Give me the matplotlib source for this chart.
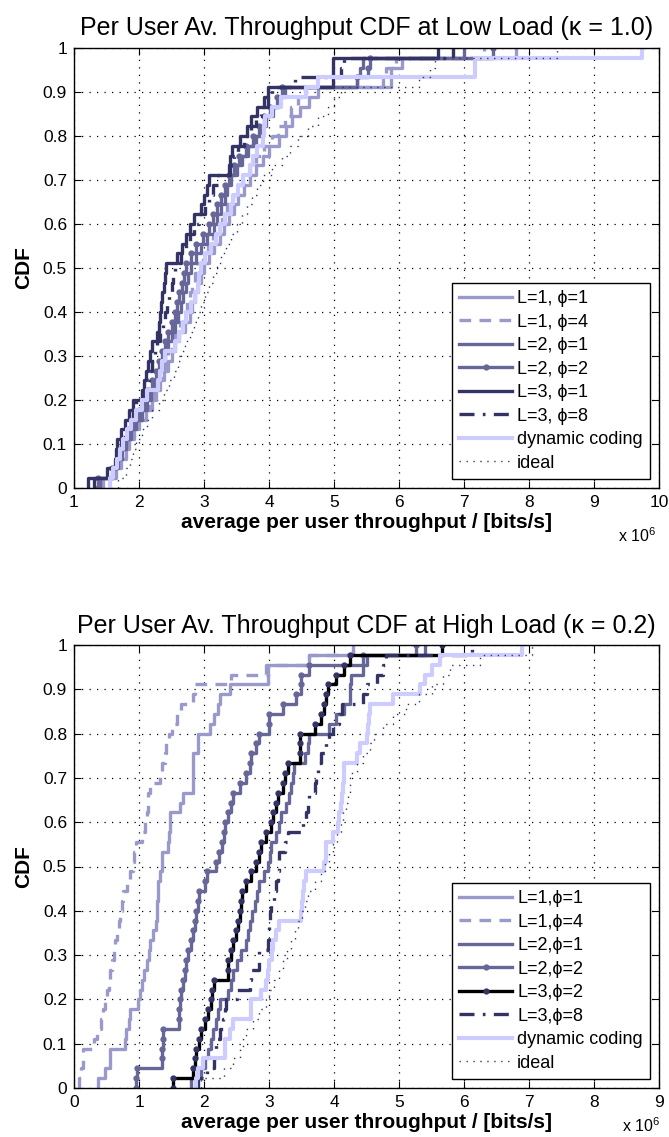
"""
Per user average throughput CDF, low load and high load
"""

import numpy as np
import matplotlib
from matplotlib import pyplot as plt
from matplotlib.ticker import FormatStrFormatter

matplotlib.use("Agg")

plt.rcParams["font.family"] = ["Liberation Sans", "DejaVu Sans"]
plt.rcParams["mathtext.fontset"] = "custom"
plt.rcParams["mathtext.rm"] = "Liberation Sans"

# per user throughput samples in 1e6 bits/s, low load (kappa = 1.0)
low_l1_p1 = [1.45, 1.65, 1.72, 1.80, 1.85, 1.92, 2.00, 2.10, 2.20, 2.26, 2.32, 2.38, 2.44, 2.50, 2.56,
             2.62, 2.70, 2.78, 2.82, 2.86, 2.90, 2.95, 3.00, 3.08, 3.16, 3.24, 3.30, 3.38, 3.46, 3.52,
             3.62, 3.70, 3.80, 3.90, 4.00, 4.15, 4.26, 4.36, 4.48, 4.62, 4.75, 5.87, 5.88, 6.05, 7.80]
low_l1_p4 = [1.42, 1.60, 1.68, 1.76, 1.82, 1.88, 1.95, 2.05, 2.15, 2.22, 2.28, 2.34, 2.40, 2.45, 2.50,
             2.56, 2.63, 2.70, 2.74, 2.78, 2.82, 2.86, 2.90, 2.98, 3.06, 3.14, 3.20, 3.28, 3.36, 3.44,
             3.52, 3.60, 3.70, 3.80, 3.92, 4.05, 4.14, 4.24, 4.34, 4.45, 4.55, 5.75, 5.80, 5.95, 7.30]
low_l2_p1 = [1.40, 1.60, 1.68, 1.74, 1.80, 1.88, 1.96, 2.04, 2.12, 2.18, 2.24, 2.30, 2.35, 2.40, 2.45,
             2.50, 2.55, 2.60, 2.64, 2.68, 2.72, 2.76, 2.80, 2.88, 2.96, 3.05, 3.15, 3.20, 3.26, 3.32,
             3.36, 3.42, 3.50, 3.58, 3.68, 3.80, 3.88, 3.96, 4.06, 4.16, 4.25, 5.35, 5.40, 5.45, 7.00]
low_l2_p2 = [1.37, 1.58, 1.66, 1.72, 1.78, 1.85, 1.92, 2.00, 2.08, 2.14, 2.20, 2.26, 2.30, 2.35, 2.40,
             2.45, 2.50, 2.55, 2.58, 2.62, 2.66, 2.69, 2.72, 2.80, 2.88, 2.98, 3.08, 3.14, 3.20, 3.26,
             3.32, 3.38, 3.46, 3.54, 3.64, 3.75, 3.84, 3.92, 4.02, 4.12, 4.20, 5.36, 5.52, 5.55, 7.45]
low_l3_p1 = [1.21, 1.50, 1.63, 1.64, 1.66, 1.73, 1.78, 1.85, 1.90, 2.05, 2.07, 2.10, 2.14, 2.17, 2.20,
             2.27, 2.31, 2.32, 2.34, 2.36, 2.38, 2.40, 2.42, 2.58, 2.66, 2.72, 2.78, 2.84, 2.95, 3.00,
             3.04, 3.08, 3.38, 3.40, 3.43, 3.55, 3.66, 3.72, 3.81, 3.92, 3.98, 4.98, 4.98, 4.98, 6.60]
low_l3_p8 = [1.30, 1.52, 1.66, 1.70, 1.72, 1.78, 1.84, 1.90, 1.96, 2.08, 2.12, 2.16, 2.20, 2.24, 2.28,
             2.33, 2.37, 2.40, 2.43, 2.46, 2.50, 2.53, 2.56, 2.64, 2.72, 2.78, 2.84, 2.92, 3.02, 3.08,
             3.14, 3.22, 3.40, 3.46, 3.52, 3.62, 3.72, 3.80, 3.88, 3.98, 4.05, 4.40, 5.10, 5.15, 6.83]
low_dyn = [1.55, 1.60, 1.66, 1.71, 1.75, 1.82, 1.88, 1.96, 2.04, 2.12, 2.29, 2.32, 2.36, 2.40, 2.55,
           2.62, 2.68, 2.72, 2.80, 2.86, 2.91, 2.93, 2.95, 3.02, 3.10, 3.18, 3.25, 3.32, 3.42, 3.44,
           3.52, 3.60, 3.70, 3.75, 3.82, 3.90, 3.92, 3.94, 4.05, 4.19, 4.57, 4.75, 7.17, 7.17, 9.74]
low_ideal = [1.68, 1.80, 1.86, 1.90, 1.95, 2.04, 2.12, 2.20, 2.30, 2.38, 2.46, 2.54, 2.60, 2.65, 2.70,
             2.78, 2.84, 2.90, 2.96, 3.02, 3.08, 3.14, 3.20, 3.26, 3.34, 3.42, 3.50, 3.58, 3.66, 3.74,
             3.82, 3.90, 4.05, 4.20, 4.32, 4.45, 4.60, 4.75, 4.90, 5.00, 5.10, 6.30, 6.48, 6.55, 8.43]

# high load (kappa = 0.2)
high_l1_p1 = [0.37, 0.48, 0.55, 0.55, 0.78, 0.80, 0.84, 0.86, 0.99, 1.01, 1.04, 1.08, 1.12, 1.15, 1.17,
              1.22, 1.26, 1.27, 1.28, 1.29, 1.29, 1.33, 1.35, 1.35, 1.45, 1.46, 1.47, 1.47, 1.63, 1.68,
              1.83, 1.83, 1.83, 1.83, 1.91, 1.91, 2.09, 2.16, 2.22, 2.24, 2.40, 2.98, 2.98, 3.62, 4.29]
high_l1_p4 = [0.07, 0.10, 0.14, 0.14, 0.30, 0.36, 0.42, 0.45, 0.48, 0.50, 0.54, 0.56, 0.58, 0.61, 0.63,
              0.66, 0.69, 0.71, 0.74, 0.76, 0.82, 0.86, 0.90, 0.93, 0.96, 1.04, 1.09, 1.12, 1.14, 1.14,
              1.17, 1.32, 1.36, 1.40, 1.42, 1.46, 1.50, 1.58, 1.65, 1.83, 1.86, 2.42, 2.95, 3.62, 4.29]
high_l2_p1 = [1.80, 1.95, 2.02, 2.06, 2.10, 2.14, 2.18, 2.22, 2.24, 2.37, 2.42, 2.45, 2.50, 2.57, 2.65,
              2.68, 2.70, 2.74, 2.78, 2.82, 2.85, 2.92, 2.98, 3.01, 3.03, 3.11, 3.15, 3.19, 3.26, 3.30,
              3.34, 3.37, 3.39, 3.55, 3.60, 3.62, 3.93, 4.03, 4.16, 4.24, 4.24, 4.26, 4.45, 4.50, 5.40]
high_l2_p2 = [0.96, 0.97, 1.35, 1.36, 1.37, 1.37, 1.61, 1.61, 1.63, 1.65, 1.68, 1.70, 1.73, 1.75, 1.80,
              1.83, 1.86, 1.88, 1.91, 1.93, 2.01, 2.04, 2.19, 2.23, 2.27, 2.30, 2.32, 2.37, 2.42, 2.45,
              2.55, 2.65, 2.70, 2.73, 2.80, 2.85, 3.00, 3.00, 3.21, 3.42, 3.49, 3.49, 3.62, 4.45, 5.26]
high_l3_p2 = [1.52, 1.83, 1.86, 1.88, 1.92, 1.96, 2.01, 2.06, 2.10, 2.13, 2.16, 2.37, 2.37, 2.41, 2.45,
              2.49, 2.52, 2.55, 2.57, 2.59, 2.65, 2.73, 2.80, 2.84, 2.88, 2.96, 3.03, 3.06, 3.10, 3.14,
              3.21, 3.24, 3.29, 3.47, 3.47, 3.47, 3.70, 3.80, 3.85, 3.88, 3.90, 4.03, 4.16, 4.24, 5.66]
high_l3_p8 = [1.90, 2.05, 2.16, 2.18, 2.19, 2.24, 2.29, 2.32, 2.34, 2.50, 2.70, 2.73, 2.85, 2.85, 2.98,
              3.00, 3.00, 3.02, 3.03, 3.08, 3.11, 3.14, 3.15, 3.16, 3.24, 3.29, 3.52, 3.57, 3.60, 3.62,
              3.70, 3.72, 3.76, 3.80, 3.88, 3.93, 3.98, 4.08, 4.13, 4.45, 4.50, 4.66, 4.76, 4.80, 6.12]
high_dyn = [1.88, 1.90, 1.98, 2.32, 2.32, 2.40, 2.45, 2.73, 2.73, 2.88, 2.96, 2.98, 3.00, 3.04, 3.06,
            3.11, 3.16, 3.49, 3.50, 3.52, 3.54, 3.57, 3.85, 3.87, 3.88, 3.98, 4.06, 4.08, 4.10, 4.13,
            4.14, 4.15, 4.16, 4.36, 4.40, 4.50, 4.52, 4.54, 4.55, 4.91, 5.32, 5.40, 5.50, 5.63, 6.89]
high_ideal = [1.95, 2.30, 2.45, 2.55, 2.60, 2.65, 2.75, 2.85, 2.95, 3.00, 3.08, 3.15, 3.22, 3.28, 3.34,
              3.40, 3.45, 3.50, 3.55, 3.60, 3.70, 3.80, 3.86, 3.92, 3.98, 4.04, 4.10, 4.14, 4.18, 4.21,
              4.24, 4.25, 4.35, 4.45, 4.55, 4.62, 4.76, 4.90, 5.10, 5.30, 5.50, 5.68, 5.78, 6.25, 7.04]

low_labels = ["L=1, ϕ=1", "L=1, ϕ=4", "L=2, ϕ=1", "L=2, ϕ=2", "L=3, ϕ=1", "L=3, ϕ=8",
              "dynamic coding", "ideal"]
high_labels = ["L=1,ϕ=1", "L=1,ϕ=4", "L=2,ϕ=1", "L=2,ϕ=2", "L=3,ϕ=2", "L=3,ϕ=8",
               "dynamic coding", "ideal"]

C1 = "#9999cc"
C2 = "#666699"
C3 = "#333366"
CD = "#ccccff"
LW = 2.4


def draw_cdf(ax, samples, **style):
    s = np.sort(np.asarray(samples, dtype=float))
    n = len(s)
    x = np.r_[s[0], s]
    y = np.arange(n + 1) / n
    ax.step(x, y, where="post", **style)


def setup_axes(ax, xlim, title):
    ax.set_xlim(*xlim)
    ax.set_ylim(0, 1)
    ax.set_xticks(np.arange(xlim[0], xlim[1] + 1))
    ax.set_yticks(np.linspace(0, 1, 11))
    ax.yaxis.set_major_formatter(FormatStrFormatter("%g"))
    ax.tick_params(direction="in", top=True, right=True, length=5, width=0.8,
                   labelsize=12.5, pad=5)
    ax.grid(True, color="k", linewidth=0.9, linestyle=(0, (1, 5)))
    for sp in ax.spines.values():
        sp.set_linewidth(1.0)
    ax.set_title(title, fontsize=18, pad=9)
    ax.set_xlabel("average per user throughput / [bits/s]", fontsize=15, fontweight="bold",
                  labelpad=2)
    ax.set_ylabel("CDF", fontsize=15, fontweight="bold", labelpad=7)


def plot_panel(ax, curves, labels, style_l3):
    styles = [
        dict(color=C1, lw=LW),
        dict(color=C1, lw=LW, linestyle=(0, (3.5, 2.5))),
        dict(color=C2, lw=LW),
        dict(color=C2, lw=LW, marker="o", markersize=3.5),
        style_l3,
        dict(color=C3, lw=LW, linestyle=(0, (4.5, 2.5, 0.8, 2.5))),
        dict(color=CD, lw=LW + 0.6),
        dict(color=C3, lw=1.0, linestyle=(0, (1, 4))),
    ]
    for data, lab, st in zip(curves, labels, styles):
        draw_cdf(ax, data, label=lab, **st)
    leg = ax.legend(loc="lower right", fontsize=13, handlelength=2.9, handletextpad=0.3,
                    labelspacing=0.36, borderpad=0.4, borderaxespad=0.5,
                    fancybox=False, framealpha=1, edgecolor="k")
    leg.get_frame().set_linewidth(1.0)


def main():
    fig = plt.figure(figsize=(6.69, 11.37), dpi=100)
    ax1 = fig.add_axes([74 / 669, 1 - 488 / 1137, 585 / 669, 440 / 1137])
    ax2 = fig.add_axes([74 / 669, 1 - 1088 / 1137, 585 / 669, 443 / 1137])

    plot_panel(ax1, [low_l1_p1, low_l1_p4, low_l2_p1, low_l2_p2, low_l3_p1, low_l3_p8, low_dyn,
                     low_ideal], low_labels, dict(color=C3, lw=LW))
    setup_axes(ax1, (1, 10), "Per User Av. Throughput CDF at Low Load (κ = 1.0)")

    plot_panel(ax2, [high_l1_p1, high_l1_p4, high_l2_p1, high_l2_p2, high_l3_p2, high_l3_p8,
                     high_dyn, high_ideal], high_labels,
               dict(color="k", lw=LW, marker="o", markersize=3.5, markerfacecolor=C3,
                    markeredgecolor=C3))
    setup_axes(ax2, (0, 9), "Per User Av. Throughput CDF at High Load (κ = 0.2)")

    fig.text(618 / 669, 1 - 536 / 1137, "x 10$^{6}$", fontsize=11.5, va="center")
    fig.text(622 / 669, 1 - 1126 / 1137, "x 10$^{6}$", fontsize=11.5, va="center")

    fig.savefig("out.png", dpi=100)


if __name__ == '__main__':
    main()
